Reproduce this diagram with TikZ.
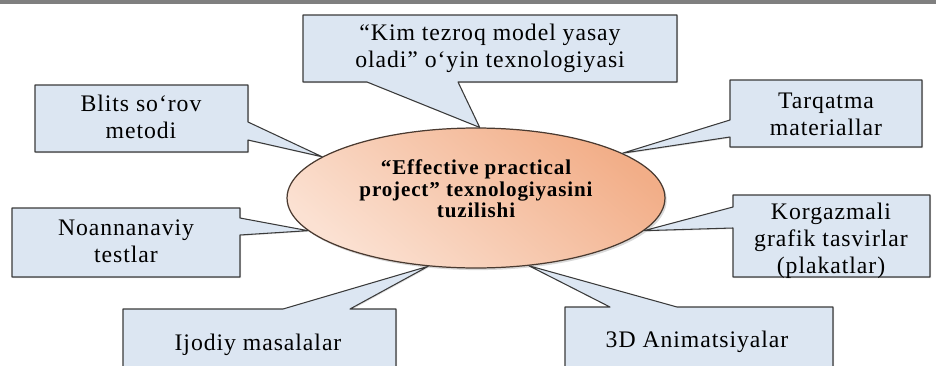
\documentclass[tikz,border=0pt]{standalone}
\usepackage{fontspec}
\setmainfont{Liberation Serif}
\usetikzlibrary{shapes.geometric,shadows}

\definecolor{boxblue}{HTML}{DCE6F2}
\definecolor{boxline}{HTML}{3A3A3A}
\definecolor{peachlight}{HTML}{FBE1D2}
\definecolor{peachdark}{HTML}{F2AE88}
\definecolor{hubline}{HTML}{4A3A30}
\definecolor{barcolor}{HTML}{7F7F7F}

\begin{document}
\begin{tikzpicture}[x=0.02cm, y=-0.02cm,
		bubble_style/.style={fill=boxblue,draw=boxline,line width=0.6pt,line join=round,
			drop shadow={opacity=0.25,shadow xshift=0.6pt,shadow yshift=-0.6pt}},
		text_style/.style={align=center,font=\fontsize{13.5}{15.4}\selectfont\addfontfeatures{LetterSpace=4},inner sep=0pt},
		hub_style/.style={ellipse,draw=hubline,line width=0.7pt,minimum width=7.56cm,minimum height=2.8cm,
			inner sep=0pt,top color=peachdark,bottom color=peachlight,shading angle=-40,
			drop shadow={opacity=0.3,shadow xshift=1pt,shadow yshift=-1.2pt}},
		hubtext_style/.style={align=center,font=\bfseries\fontsize{12}{12.2}\selectfont\addfontfeatures{LetterSpace=4},inner sep=0pt}]

		\useasboundingbox (0,0) rectangle (936,365);
		\clip (0,0) rectangle (936,365);
		\fill[barcolor] (0,0) rectangle (936,4);

		% centre
		\node[hub_style] (hub) at (476,198) {};

		% callouts
		\filldraw[bubble_style] (303,15) -- (677,15) -- (677,82) -- (458,82) -- (hub.87) -- (367,82) -- (303,82) -- cycle;
		\filldraw[bubble_style] (35,85) -- (248,85) -- (248,122) -- (hub.165) -- (248,140) -- (248,152) -- (35,152) -- cycle;
		\filldraw[bubble_style] (730,80) -- (922,80) -- (922,147) -- (730,147) -- (730,137) -- (hub.17) -- (730,120) -- cycle;
		\filldraw[bubble_style] (12,208) -- (240,208) -- (240,218) -- (hub.191) -- (240,235) -- (240,277) -- (12,277) -- cycle;
		\filldraw[bubble_style] (733,195) -- (930,195) -- (930,277) -- (733,277) -- (733,228) -- (hub.-11) -- (733,207) -- cycle;
		\filldraw[bubble_style] (123,309) -- (283,309) -- (hub.-125) -- (350,309) -- (396,309) -- (396,380) -- (123,380) -- cycle;
		\filldraw[bubble_style] (565,307) -- (610,307) -- (hub.-52) -- (677,307) -- (833,307) -- (833,380) -- (565,380) -- cycle;

		% texts
		\node[hubtext_style] (hublabel) at (476,189) {“Effective practical\\project” texnologiyasini\\tuzilishi};
		\node[text_style] (kim) at (490,48) {“Kim tezroq model yasay\\oladi” o‘yin texnologiyasi};
		\node[text_style] (blits) at (141,117) {Blits so‘rov\\metodi};
		\node[text_style] (tarqatma) at (826,114) {Tarqatma\\materiallar};
		\node[text_style] (noan) at (126,241) {Noannanaviy\\testlar};
		\node[text_style] (korg) at (831,241) {Korgazmali\\grafik tasvirlar\\(plakatlar)};
		\node[text_style] (ijodiy) at (258,345) {Ijodiy masalalar};
		\node[text_style] (anim) at (697,342) {3D Animatsiyalar};

\end{tikzpicture}
\end{document}
